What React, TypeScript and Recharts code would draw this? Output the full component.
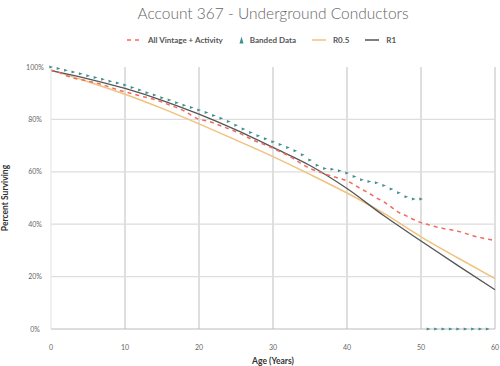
import React from 'react';
import {
  ComposedChart, Line, Scatter, XAxis, YAxis, CartesianGrid,
} from 'recharts';

const TITLE = 'Account 367 - Underground Conductors';
const X_TICKS = [0, 10, 20, 30, 40, 50, 60];
const Y_TICKS = [0, 20, 40, 60, 80, 100];

// All Vintage + Activity (observed), ages 0..60
const vintageAges = Array.from({ length: 61 }, (_, i) => i);
const vintageValues = [
  98.9, 98.0, 96.8, 95.8, 95.2, 94.6, 94.0, 93.2, 92.3, 91.3,
  90.5, 89.8, 89.0, 88.3, 87.6, 86.6, 85.5, 84.5, 83.2, 81.5,
  80.0, 79.5, 78.6, 77.5, 76.4, 75.3, 74.0, 72.5, 71.3, 70.2,
  69.0, 67.6, 66.3, 64.6, 62.8, 61.3, 60.2, 59.2, 58.3, 57.5,
  56.5, 55.0, 53.3, 51.8, 50.0, 48.5, 46.5, 44.5, 43.2, 41.8,
  40.6, 39.8, 39.0, 38.4, 37.9, 37.3, 36.5, 35.6, 34.9, 34.3,
  33.8,
];

// Banded data, ages 0..59
const bandedAges = Array.from({ length: 60 }, (_, i) => i);
const bandedValues = [
  100, 99.4, 98.8, 98.1, 97.4, 96.7, 96.0, 95.3, 94.6, 93.9,
  93.1, 92.2, 91.2, 90.2, 89.3, 88.3, 87.4, 86.4, 85.4, 84.5,
  83.6, 82.6, 81.5, 80.4, 79.2, 77.8, 76.3, 75.0, 73.8, 72.6,
  71.5, 70.4, 69.3, 68.0, 66.5, 64.5, 62.5, 61.3, 61.0, 60.4,
  59.5, 58.2, 57.0, 56.3, 55.8, 54.8, 53.4, 52.0, 50.5, 49.6,
  49.6, 0, 0, 0, 0, 0, 0, 0, 0, 0,
];

// Iowa curves, every 5 years
const curveAges = [0, 5, 10, 15, 20, 25, 30, 35, 40, 45, 50, 55, 60];
const r05Values = [98.8, 94.4, 89.6, 84.2, 78.3, 72.1, 65.8, 59.0, 51.9, 44.1, 35.2, 27.1, 19.2];
const r1Values = [98.6, 95.5, 91.8, 87.3, 82.0, 76.0, 69.3, 62.4, 53.6, 43.2, 33.6, 24.2, 15.0];

const vintageData = vintageAges.map((age, i) => ({ age, v: vintageValues[i] }));
const bandedData = bandedAges.map((age, i) => ({ age, v: bandedValues[i] }));
const r05Data = curveAges.map((age, i) => ({ age, v: r05Values[i] }));
const r1Data = curveAges.map((age, i) => ({ age, v: r1Values[i] }));

const RED = '#f26a5e';
const TEAL = '#438d8d';
const ORANGE = '#f0c27e';
const DARK = '#555555';
const FONT = 'Lato, "Open Sans", sans-serif';

const Triangle = (props: any) => {
  const { cx, cy } = props;
  if (cx == null || cy == null) return null;
  return (
    <path
      d={`M${cx - 1.7},${cy - 1.5} L${cx + 2},${cy} L${cx - 1.7},${cy + 1.5} Z`}
      fill={TEAL}
    />
  );
};

const YTick = (props: any) => {
  const { y, payload } = props;
  return (
    <text x={35} y={y} dy={2.5} textAnchor="middle" fontSize={7} fill="#666" fontFamily={FONT}>
      {`${payload.value}%`}
    </text>
  );
};

const legendItems = [
  { name: 'All Vintage + Activity', kind: 'dash', color: RED },
  { name: 'Banded Data', kind: 'tri', color: TEAL },
  { name: 'R0.5', kind: 'line', color: ORANGE },
  { name: 'R1', kind: 'line', color: DARK },
];

const LegendIcon = ({ kind, color }: { kind: string; color: string }) => {
  if (kind === 'dash') {
    return (
      <svg width={15} height={10} style={{ marginRight: 6 }}>
        <line x1={0} y1={5} x2={15} y2={5} stroke={color} strokeWidth={1.5} strokeDasharray="4 4" />
      </svg>
    );
  }
  if (kind === 'tri') {
    return (
      <svg width={5} height={10} style={{ marginRight: 6 }}>
        <path d="M2.5,1.5 L4.5,8.5 L0.5,8.5 Z" fill={color} />
      </svg>
    );
  }
  return (
    <svg width={14} height={10} style={{ marginRight: 7 }}>
      <line x1={0} y1={5} x2={14} y2={5} stroke={color} strokeWidth={1.5} />
    </svg>
  );
};

export default function App() {
  return (
    <div style={{ position: 'absolute', left: 0, top: 0, width: 500, height: 366, background: '#fff', fontFamily: FONT }}>
      <div style={{ position: 'absolute', left: 0, top: 0, width: 546, textAlign: 'center', fontSize: 15.5, fontWeight: 300, color: '#666', lineHeight: '26px' }}>
        {TITLE}
      </div>
      <div style={{ position: 'absolute', left: 127, top: 34, height: 12, display: 'flex', alignItems: 'center', fontSize: 8, fontWeight: 700, color: '#555', whiteSpace: 'nowrap' }}>
        {legendItems.map((it) => (
          <div key={it.name} style={{ display: 'flex', alignItems: 'center', marginRight: 16 }}>
            <LegendIcon kind={it.kind} color={it.color} />
            <span>{it.name}</span>
          </div>
        ))}
      </div>
      <div style={{ position: 'absolute', left: 5, top: 198, width: 0, height: 0 }}>
        <div style={{ position: 'absolute', transform: 'translate(-50%, -50%) rotate(-90deg)', whiteSpace: 'nowrap', fontSize: 8.5, fontWeight: 700, color: '#333' }}>
          Percent Surviving
        </div>
      </div>
      <ComposedChart width={500} height={366} margin={{ top: 67, right: 5, bottom: 0, left: 0 }}>
        <CartesianGrid horizontal={false} verticalValues={[10, 20, 30, 40, 50, 60]} stroke="#d4d4d4" strokeWidth={1.5} />
        <CartesianGrid vertical={false} horizontalValues={[20, 40, 60, 80]} stroke="#dddddd" strokeWidth={1.2} />
        <XAxis
          dataKey="age"
          type="number"
          domain={[0, 60]}
          ticks={X_TICKS}
          allowDuplicatedCategory={false}
          height={37}
          tickLine={false}
          axisLine={{ stroke: '#bbbbbb', strokeWidth: 1.2 }}
          tick={{ fontSize: 7, fill: '#666', fontFamily: FONT }}
          tickMargin={10}
          label={{ value: 'Age (Years)', position: 'insideBottom', offset: 2, fontSize: 8.5, fontWeight: 700, fill: '#333', fontFamily: FONT }}
        />
        <YAxis
          type="number"
          domain={[0, 100]}
          ticks={Y_TICKS}
          width={51}
          tickLine={false}
          axisLine={{ stroke: '#e2e2e2', strokeWidth: 1 }}
          tick={<YTick />}
        />
        <Line data={r05Data} dataKey="v" type="monotone" stroke={ORANGE} strokeWidth={1.5} dot={false} isAnimationActive={false} />
        <Line data={r1Data} dataKey="v" type="monotone" stroke={DARK} strokeWidth={1.3} dot={false} isAnimationActive={false} />
        <Line data={vintageData} dataKey="v" type="monotone" stroke={RED} strokeWidth={1.5} strokeDasharray="4 4" dot={false} isAnimationActive={false} />
        <Scatter data={bandedData} dataKey="v" shape={<Triangle />} isAnimationActive={false} />
      </ComposedChart>
    </div>
  );
}
